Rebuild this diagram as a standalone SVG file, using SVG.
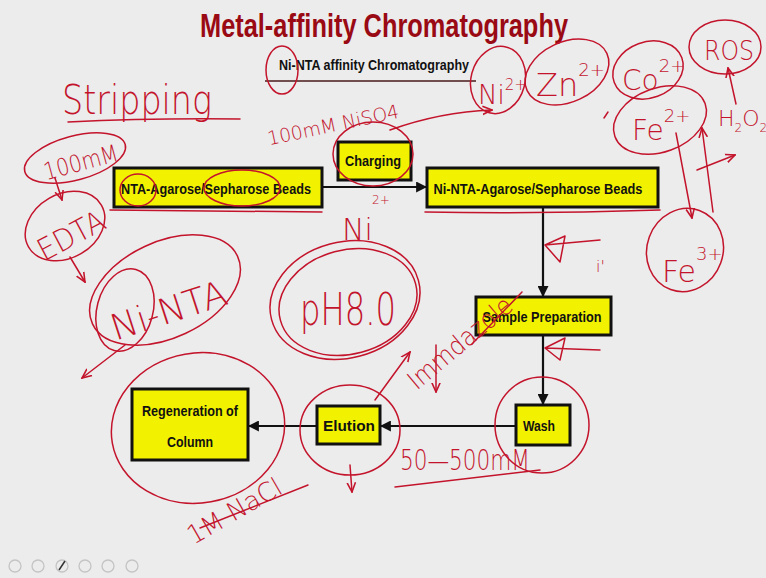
<svg xmlns="http://www.w3.org/2000/svg" width="766" height="578" viewBox="0 0 766 578">
<defs>
<style>
.bg{fill:#ececec}
.box{fill:#f2f200;stroke:#111;stroke-width:3}
.lbl{font-family:"Liberation Sans",Arial,sans-serif;font-weight:bold;font-size:15px;fill:#111;text-anchor:middle}
.conn{stroke:#111;stroke-width:2.2;fill:none}
.ink{stroke:#c3142c;stroke-width:1.5;fill:none;stroke-linecap:round;stroke-linejoin:round}
.hw{font-family:"DejaVu Sans","Liberation Sans",sans-serif;fill:#c3142c;font-weight:200}
.icon{fill:none;stroke:#c4c4c4;stroke-width:1.3}
</style>
<marker id="ah" viewBox="0 0 10 10" refX="9" refY="5" markerWidth="5" markerHeight="5" orient="auto"><path d="M0,0 L10,5 L0,10 z" fill="#111"/></marker>
<marker id="rh" viewBox="0 0 10 10" refX="9" refY="5" markerWidth="7" markerHeight="7" orient="auto"><path d="M0,1 L9,5 L0,9" fill="none" stroke="#c3142c" stroke-width="1.5"/></marker>
</defs>
<rect class="bg" x="0" y="0" width="766" height="578"/>

<text x="384" y="37" text-anchor="middle" textLength="368" lengthAdjust="spacingAndGlyphs" font-family="Liberation Sans, Arial, sans-serif" font-weight="bold" font-size="34" fill="#9a0a14">Metal-affinity Chromatography</text>
<g id="subtitle">
<text x="374" y="70" class="lbl" font-size="14" textLength="190" lengthAdjust="spacingAndGlyphs">Ni-NTA affinity Chromatography</text>
<line x1="265" y1="81" x2="476" y2="81" stroke="#4a1a1a" stroke-width="1.5"/>
</g>

<g id="connectors">
<line class="conn" x1="322" y1="187" x2="426" y2="187" marker-end="url(#ah)"/>
<line class="conn" x1="543" y1="207" x2="543" y2="296" marker-end="url(#ah)"/>
<line class="conn" x1="543" y1="335" x2="543" y2="404" marker-end="url(#ah)"/>
<line class="conn" x1="516" y1="426" x2="381" y2="426" marker-end="url(#ah)"/>
<line class="conn" x1="317" y1="426" x2="249" y2="426" marker-end="url(#ah)"/>
</g>

<g id="beads">
<rect class="box" x="114" y="168" width="208" height="39"/>
<text class="lbl" x="216" y="194" textLength="190" lengthAdjust="spacingAndGlyphs">NTA-Agarose/Sepharose Beads</text>
</g>
<g id="charging">
<rect class="box" x="338" y="142" width="73" height="38"/>
<text class="lbl" x="373" y="166" textLength="56" lengthAdjust="spacingAndGlyphs">Charging</text>
</g>
<g id="ni-beads">
<rect class="box" x="427" y="168" width="231" height="39"/>
<text class="lbl" x="538" y="194" textLength="209" lengthAdjust="spacingAndGlyphs">Ni-NTA-Agarose/Sepharose Beads</text>
</g>
<g id="sample">
<rect class="box" x="476" y="297" width="135" height="38"/>
<text class="lbl" x="542" y="322" textLength="119" lengthAdjust="spacingAndGlyphs">Sample Preparation</text>
</g>
<g id="wash">
<rect class="box" x="516" y="405" width="54" height="40"/>
<text class="lbl" x="539" y="431" textLength="32" lengthAdjust="spacingAndGlyphs">Wash</text>
</g>
<g id="elution">
<rect class="box" x="317" y="406" width="63" height="38"/>
<text class="lbl" x="349" y="431" textLength="52" lengthAdjust="spacingAndGlyphs">Elution</text>
</g>
<g id="regeneration">
<rect class="box" x="132" y="389" width="116" height="71"/>
<text class="lbl" x="190" y="416" textLength="96" lengthAdjust="spacingAndGlyphs">Regeneration of</text>
<text class="lbl" x="190" y="447" textLength="46" lengthAdjust="spacingAndGlyphs">Column</text>
</g>

<g id="annotations">
<text class="hw" x="62" y="114" font-size="40" textLength="150" lengthAdjust="spacingAndGlyphs">Stripping</text>
<path class="ink" d="M68,122 Q150,118 240,119"/>
<ellipse class="ink" cx="75" cy="158" rx="52" ry="22" transform="rotate(-15 75 158)"/>
<text class="hw" x="42" y="172" font-size="24" textLength="76" lengthAdjust="spacingAndGlyphs" transform="rotate(-15 75 160)">100mM</text>
<path class="ink" d="M55,178 L62,200" marker-end="url(#rh)"/>
<ellipse class="ink" cx="65" cy="226" rx="42" ry="32" transform="rotate(-30 65 226)"/>
<text class="hw" x="32" y="248" font-size="30" textLength="72" lengthAdjust="spacingAndGlyphs" transform="rotate(-28 65 230)">EDTA</text>
<path class="ink" d="M110,210 L322,212"/>
<path class="ink" d="M70,257 L85,282" marker-end="url(#rh)"/>
<ellipse class="ink" cx="165" cy="290" rx="80" ry="48" transform="rotate(-25 165 290)"/>
<ellipse class="ink" cx="125" cy="310" rx="28" ry="42" transform="rotate(15 125 310)"/>
<text class="hw" x="105" y="325" font-size="36" textLength="120" lengthAdjust="spacingAndGlyphs" transform="rotate(-18 160 300)">Ni-NTA</text>
<path class="ink" d="M125,345 L82,378" marker-end="url(#rh)"/>
<ellipse class="ink" cx="138" cy="190" rx="18" ry="16"/>
<ellipse class="ink" cx="242" cy="188" rx="38" ry="18"/>
<ellipse class="ink" cx="282" cy="70" rx="16" ry="24"/>
<ellipse class="ink" cx="373" cy="154" rx="40" ry="32"/>
<text class="hw" x="264" y="132" font-size="19" textLength="134" lengthAdjust="spacingAndGlyphs" transform="rotate(-12 330 115)">100mM NiSO4</text>
<path class="ink" d="M390,130 Q440,112 492,110" marker-end="url(#rh)"/>
<text class="hw" x="372" y="204" font-size="12">2+</text>
<text class="hw" x="342" y="240" font-size="30">Ni</text>
<ellipse class="ink" cx="345" cy="300" rx="76" ry="58" transform="rotate(-15 345 300)"/>
<ellipse class="ink" cx="348" cy="302" rx="70" ry="52" transform="rotate(-15 348 302)"/>
<text class="hw" x="300" y="325" font-size="44" textLength="96" lengthAdjust="spacingAndGlyphs">pH8.0</text>
<text class="hw" x="388" y="378" font-size="26" textLength="128" lengthAdjust="spacingAndGlyphs" transform="rotate(-40 420 345)">Immdazole</text>
<path class="ink" d="M472,344 L522,292"/>
<path class="ink" d="M436,345 L436,392" marker-end="url(#rh)"/>
<path class="ink" d="M375,400 L410,352" marker-end="url(#rh)"/>
<path class="ink" d="M600,240 L545,245 M565,236 L545,245 L560,262 z"/>
<path class="ink" d="M600,350 L545,348 M565,338 L545,348 L560,360 z"/>
<text class="hw" x="596" y="272" font-size="16">i'</text>
<path class="ink" d="M425,212 Q540,214 660,210"/>
<ellipse class="ink" cx="498" cy="80" rx="27" ry="34" transform="rotate(15 498 80)"/>
<text class="hw" x="478" y="104" font-size="26">Ni<tspan font-size="15" dy="-14">2+</tspan></text>
<ellipse class="ink" cx="567" cy="72" rx="44" ry="30" transform="rotate(-25 567 72)"/>
<text class="hw" x="536" y="96" font-size="32">Zn<tspan font-size="18" dy="-20">2+</tspan></text>
<path class="ink" d="M608,112 L604,118"/>
<ellipse class="ink" cx="648" cy="70" rx="36" ry="28" transform="rotate(-20 648 70)"/>
<text class="hw" x="622" y="90" font-size="28">Co<tspan font-size="18" dy="-18">2+</tspan></text>
<ellipse class="ink" cx="725" cy="47" rx="36" ry="27"/>
<text class="hw" x="704" y="60" font-size="26" textLength="50" lengthAdjust="spacingAndGlyphs">ROS</text>
<ellipse class="ink" cx="660" cy="120" rx="48" ry="32" transform="rotate(-20 660 120)"/>
<text class="hw" x="632" y="140" font-size="28">Fe<tspan font-size="18" dy="-18">2+</tspan></text>
<text class="hw" x="718" y="126" font-size="22">H<tspan font-size="12" dy="6">2</tspan><tspan dy="-6">O</tspan><tspan font-size="12" dy="6">2</tspan></text>
<path class="ink" d="M736,104 L728,68" marker-end="url(#rh)"/>
<path class="ink" d="M697,170 L735,155" marker-end="url(#rh)"/>
<path class="ink" d="M676,133 L692,218" marker-end="url(#rh)"/>
<path class="ink" d="M713,212 L702,128" marker-end="url(#rh)"/>
<ellipse class="ink" cx="685" cy="250" rx="38" ry="42" transform="rotate(20 685 250)"/>
<text class="hw" x="662" y="282" font-size="30">Fe<tspan font-size="18" dy="-22">3+</tspan></text>
<ellipse class="ink" cx="198" cy="428" rx="87" ry="75" transform="rotate(-10 198 428)"/>
<ellipse class="ink" cx="350" cy="430" rx="50" ry="45"/>
<ellipse class="ink" cx="542" cy="425" rx="47" ry="48"/>
<path class="ink" d="M350,465 L352,492" marker-end="url(#rh)"/>
<text class="hw" x="400" y="470" font-size="28" textLength="130" lengthAdjust="spacingAndGlyphs">50—500mM</text>
<path class="ink" d="M395,487 Q470,478 540,470"/>
<text class="hw" x="172" y="525" font-size="26" textLength="105" lengthAdjust="spacingAndGlyphs" transform="rotate(-30 220 495)">1M NaCl</text>
<path class="ink" d="M200,528 Q250,508 308,485"/>
</g>

<g id="toolbar">
<circle class="icon" cx="15" cy="566" r="6"/>
<circle class="icon" cx="38" cy="566" r="6"/>
<circle class="icon" cx="62" cy="566" r="6"/>
<circle class="icon" cx="85" cy="566" r="6"/>
<circle class="icon" cx="108" cy="566" r="6"/>
<circle class="icon" cx="132" cy="566" r="6"/>
<path d="M59,570 L65,561" stroke="#333" stroke-width="1.5"/>
</g>
</svg>
